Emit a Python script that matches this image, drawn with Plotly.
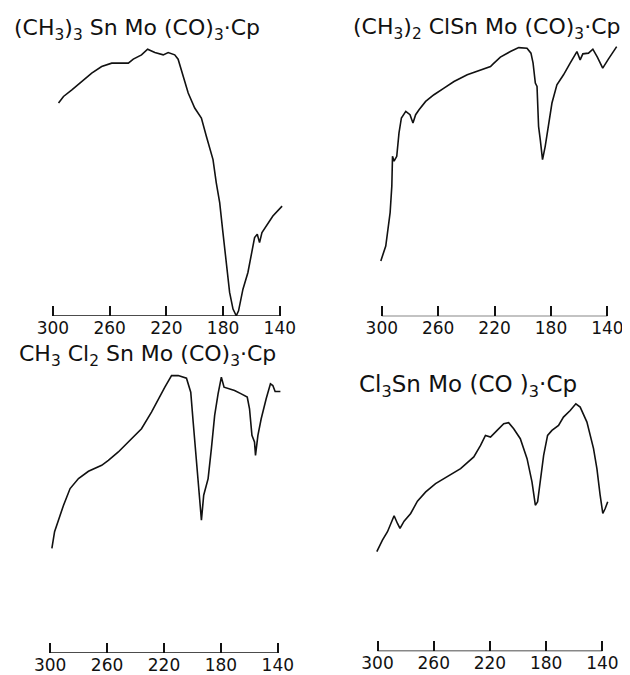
import plotly.graph_objects as go

# ---- data (wavenumber cm^-1, relative transmittance) ----
titles = [
    "(CH<sub>3</sub>)<sub>3</sub> Sn Mo (CO)<sub>3</sub>·Cp",
    "(CH<sub>3</sub>)<sub>2</sub> ClSn Mo (CO)<sub>3</sub>·Cp",
    "CH<sub>3</sub> Cl<sub>2</sub> Sn Mo (CO)<sub>3</sub>·Cp",
    "Cl<sub>3</sub>Sn Mo (CO )<sub>3</sub>·Cp",
]
tick_vals = [300, 260, 220, 180, 140]
tick_text = ["300", "260", "220", "180", "140"]

wn1 = [296.0, 292.5, 286.6, 279.6, 272.6, 265.6, 258.5, 246.8, 243.3, 237.5, 233.2, 228.1,
       222.2, 218.7, 214.1, 211.7, 208.2, 204.6, 200.0, 195.3, 191.8, 187.1, 184.8, 182.4,
       180.1, 177.7, 175.4, 173.0, 170.7, 169.1, 166.0, 162.5, 159.7, 157.8, 155.9, 154.3,
       152.6, 149.6, 144.9, 138.4]
t1 = [213.7, 220.3, 227.0, 235.3, 243.7, 250.3, 253.7, 253.7, 257.7, 262.0, 267.7, 264.3,
      262.0, 264.3, 262.0, 257.7, 240.3, 223.7, 208.7, 198.7, 180.3, 157.0, 133.7, 113.7,
      83.7, 53.7, 23.7, 7.0, 0.3, 5.3, 27.0, 43.7, 63.7, 78.7, 82.0, 73.7,
      83.7, 90.3, 100.3, 110.3]

wn2 = [300.7, 297.2, 294.1, 292.9, 292.4, 291.3, 289.4, 287.8, 286.1, 283.0, 280.0, 277.9,
       276.0, 273.6, 268.9, 263.0, 255.9, 248.8, 239.4, 230.0, 222.9, 221.0, 215.9, 208.8,
       202.9, 197.0, 194.2, 192.7, 191.1, 189.9, 188.8, 187.6, 186.0, 184.1, 181.7, 179.3,
       175.8, 171.1, 166.4, 161.6, 159.3, 157.4, 153.4, 150.3, 147.1, 143.3, 139.3, 133.4]
t2 = [55.6, 70.6, 104.0, 130.6, 160.6, 155.6, 160.6, 184.0, 199.0, 205.6, 202.3, 194.0,
      202.3, 207.3, 215.6, 222.3, 229.0, 235.6, 242.3, 247.3, 250.6, 253.3, 260.0, 265.6,
      269.6, 269.0, 264.0, 254.0, 234.0, 230.6, 190.6, 177.3, 157.3, 170.6, 190.6, 214.0,
      232.3, 242.3, 254.0, 265.6, 257.3, 263.3, 264.0, 268.0, 260.0, 249.0, 258.0, 270.6]

wn3 = [298.8, 296.9, 293.0, 290.6, 286.0, 280.1, 273.1, 263.8, 259.1, 252.1, 245.1, 235.8,
       228.8, 224.1, 219.4, 214.7, 210.0, 204.2, 201.2, 199.5, 197.2, 194.9, 193.7, 192.1,
       189.0, 186.7, 184.4, 182.0, 179.7, 177.8, 175.0, 170.4, 165.7, 161.5, 159.9, 158.2,
       156.4, 155.7, 154.0, 151.7, 148.2, 145.2, 143.5, 141.9, 138.2]
t3 = [105.0, 121.7, 138.3, 148.3, 165.0, 175.0, 182.3, 188.3, 193.3, 201.7, 211.7, 225.0,
      241.7, 255.0, 266.7, 278.3, 278.3, 275.7, 261.7, 231.7, 191.7, 148.3, 133.3, 158.3,
      175.0, 205.0, 238.3, 260.0, 276.7, 266.7, 265.7, 263.3, 260.0, 256.7, 245.0, 218.3,
      211.7, 198.3, 218.3, 235.0, 255.0, 270.0, 268.3, 262.3, 262.3]

wn4 = [300.5, 296.5, 292.9, 290.6, 288.2, 285.8, 284.0, 281.1, 276.4, 271.6, 265.7, 258.7,
       250.4, 240.9, 231.5, 226.7, 223.2, 219.6, 214.9, 210.2, 206.7, 203.1, 198.4, 193.6,
       190.1, 187.7, 186.1, 184.2, 181.8, 179.0, 175.9, 171.2, 167.7, 162.9, 158.9, 155.8,
       151.0, 146.3, 143.9, 141.6, 139.7, 138.0, 136.2]
t4 = [100.0, 111.6, 120.0, 128.3, 136.0, 128.3, 123.3, 130.6, 138.3, 150.6, 160.0, 168.3,
      175.0, 183.3, 195.0, 206.6, 216.6, 215.0, 221.6, 228.3, 229.3, 223.3, 213.3, 193.3,
      170.0, 146.6, 150.0, 170.0, 196.6, 216.6, 221.6, 226.6, 235.0, 241.6, 248.3, 245.0,
      230.0, 203.3, 183.3, 156.6, 138.3, 143.3, 150.0]

series = [(wn1, t1), (wn2, t2), (wn3, t3), (wn4, t4)]

# ---- layout geometry (reference pixels; page body adds an 8px offset) ----
OFF = 8
W, H = 630 - OFF, 675 - OFF
# per panel: pixel x of 300 tick, pixel x of 140 tick, baseline pixel y
panels = [(51.0, 278.7, 317.0), (381.0, 607.3, 317.3), (48.3, 276.7, 655.0), (376.7, 602.3, 653.3)]
title_pos = [(10, 30), (350, 29), (15, 357), (356, 387)]
YSPAN = 285.0
XR = (310.0, 125.0)
FONT = "DejaVu Sans"
TITLE_SIZES = [22, 22, 22, 23]

fig = go.Figure()
for i, ((p300, p140, yb), (wn, t)) in enumerate(zip(panels, series)):
    k = "" if i == 0 else str(i + 1)
    p300 -= OFF
    p140 -= OFF
    yb -= OFF
    s = (p140 - p300) / 160.0
    left = p300 + (300 - XR[0]) * s
    right = min(W, p300 + (300 - XR[1]) * s)
    xr1 = 300 - (right - p300) / s
    top = yb - YSPAN
    fig.add_trace(go.Scatter(x=wn, y=t, mode="lines", xaxis="x" + k, yaxis="y" + k,
                             line=dict(color="#111111", width=1.6), showlegend=False,
                             hoverinfo="skip"))
    fig.layout["xaxis" + k] = dict(
        domain=[left / W, right / W], range=[XR[0], xr1], anchor="y" + k,
        tickvals=tick_vals, ticktext=tick_text, ticks="inside", ticklen=10,
        tickwidth=1.5, tickcolor="#111111", showline=False, showgrid=False,
        zeroline=False, tickfont=dict(family=FONT, size=17, color="#111111"),
    )
    fig.layout["yaxis" + k] = dict(
        domain=[1 - yb / H, 1 - top / H], range=[0, YSPAN], anchor="x" + k,
        visible=False,
    )
    fig.add_shape(type="line", xref="x" + k, yref="y" + k, x0=300, x1=140, y0=0, y1=0,
                  line=dict(color="#111111", width=1.5))
    tx, ty = title_pos[i]
    fig.add_annotation(text=titles[i], xref="paper", yref="paper",
                       x=(tx - OFF) / W, y=1 - (ty - OFF) / H,
                       xanchor="left", yanchor="middle", showarrow=False,
                       font=dict(family=FONT, size=TITLE_SIZES[i], color="#111111"))

fig.update_layout(width=W, height=H, margin=dict(l=0, r=0, t=0, b=0),
                  paper_bgcolor="white", plot_bgcolor="white")
fig.write_html("out.html")
